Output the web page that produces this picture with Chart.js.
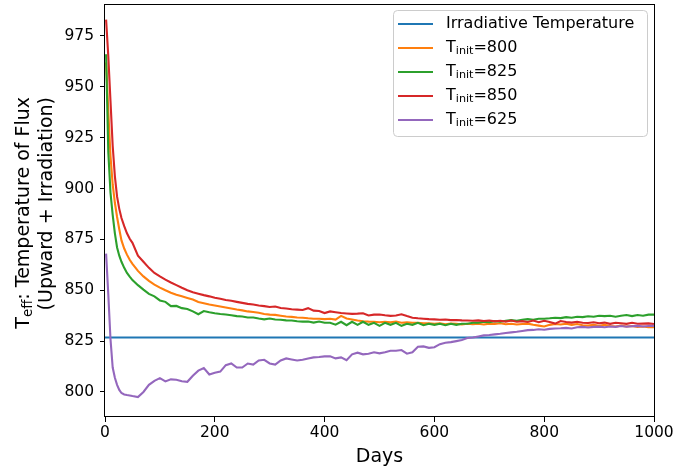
<!DOCTYPE html>
<html>
<head>
<meta charset="utf-8">
<script src="https://cdn.jsdelivr.net/npm/chart.js@4/dist/chart.umd.min.js"></script>
<style>
  html, body { margin: 0; padding: 0; background: #fff; }
  canvas { display: block; }
</style>
</head>
<body>
<canvas id="chart" width="699" height="473"></canvas>
<script>
// Effective temperature vs time for several initial temperatures.
// Values.

const days = [
    2, 6, 10, 14, 18, 22, 26, 30, 35, 40, 45, 50,
    60, 70, 80, 90, 100, 110, 120, 130, 140, 150,
    160, 170, 180, 190, 200, 210, 220, 230, 240, 250,
    260, 270, 280, 290, 300, 310, 320, 330, 340, 350,
    360, 370, 380, 390, 400, 410, 420, 430, 440, 450,
    460, 470, 480, 490, 500, 510, 520, 530, 540, 550,
    560, 570, 580, 590, 600, 610, 620, 630, 640, 650,
    660, 670, 680, 690, 700, 710, 720, 730, 740, 750,
    760, 770, 780, 790, 800, 810, 820, 830, 840, 850,
    860, 870, 880, 890, 900, 910, 920, 930, 940, 950,
    960, 970, 980, 990, 1000
];

const tInit800 = [
    962, 938, 916, 902, 893, 886, 880, 874.5, 870.5, 867.5, 865, 863,
    859.5, 856.8, 854.6, 852.8, 851.3, 850, 848.8, 847.8, 847, 846.2,
    845.4, 844.2, 843.6, 843, 842.5, 842, 841.5, 841, 840.5, 840.1,
    839.6, 839.3, 838.9, 838.3, 838, 837.9, 837.5, 837.1, 836.9, 836.6,
    836.5, 836.2, 836, 836, 835.8, 836, 835.6, 837.4, 836.1, 835.6,
    835.1, 834.8, 834.6, 834.5, 834.3, 834.5, 834.2, 834.6, 834, 834.2,
    834, 834, 833.7, 833.8, 833.5, 833.8, 833.3, 833.6, 833.5, 833.2,
    833.5, 833.3, 833.5, 833.2, 833.6, 833.4, 833.8, 833.3, 833.5, 833.2,
    833.4, 833.6, 833, 832.6, 832.2, 833, 833.4, 833.2, 833.5, 833,
    833.4, 832.8, 832.6, 833, 832.5, 833, 832.4, 832.2, 832.6, 832.2,
    832.4, 832, 832.2, 831.8, 831.8
];

const tInit825 = [
    966, 918, 898, 887, 878, 871, 867, 864, 861, 858.5, 856.7, 855,
    852.5, 850.3, 848.2, 847, 845, 844.3, 842.2, 842.3, 841.2, 840.8,
    839.6, 838.2, 839.8, 839.2, 838.7, 838.3, 838.1, 837.7, 837.3, 837.1,
    836.6, 836.6, 836.1, 835.7, 836.1, 835.6, 835.5, 835.2, 835.1, 834.8,
    834.6, 834.6, 834.1, 834.6, 834, 834, 833.1, 834.5, 832.8, 834.5,
    833, 834.5, 833, 834, 832.5, 834, 833, 834, 832.5, 833.5,
    833, 834, 832.8, 833.5, 833, 833.5, 832.8, 833.5, 833, 833.5,
    833.5, 834, 834, 834.5, 834.3, 834.8, 834.5, 835, 835.3, 835,
    835.5, 835.8, 835.5, 836, 836, 836.2, 836.5, 836.3, 836.8, 836.5,
    837, 836.8, 837.2, 837, 837.5, 837.3, 837.5, 837, 837.5, 837.8,
    837.3, 837.8, 837.5, 838, 838
];

const tInit850 = [
    983, 965, 943, 921, 906, 896, 890, 885.5, 881.5, 878, 875.3, 873.3,
    867, 864, 861, 858.5, 856.8, 855.2, 853.8, 852.5, 851.2, 850,
    849, 848.3, 847.6, 847, 846.3, 845.8, 845.2, 844.8, 844.3, 843.8,
    843.3, 843, 842.5, 842.2, 841.8, 842, 841.3, 841, 840.7, 840.5,
    840.3, 841.2, 840, 839.8, 838.8, 839.6, 839.2, 838.8, 838.6, 838.4,
    838.5, 838.7, 837.6, 838, 838.1, 837.7, 837.4, 837.6, 838.2, 837.3,
    836.5, 836.2, 836, 835.8, 835.7, 835.5, 835.6, 835.3, 835.4, 835.2,
    835.1, 835, 835.2, 834.9, 835.1, 834.7, 835, 834.6, 835.1, 834.5,
    834.8, 834.4, 835.1, 834.3, 835, 834.4, 833.6, 834.9, 834.4, 834.1,
    834.5, 834, 833.9, 834.3, 833.8, 834.1, 833.5, 834, 833.8, 833.5,
    834, 833.5, 833.6, 833.7, 833.4
];

const tInit625 = [
    868, 848, 826, 812, 807, 803.5, 801, 799.5, 798.8, 798.5, 798.3, 798,
    797.5, 800, 803.5, 805.5, 806.8, 805.2, 806.2, 806, 805.3, 805,
    808, 810.5, 811.8, 808.6, 809.5, 810, 813.2, 814, 812, 812,
    814, 813.5, 815.5, 815.8, 814, 813.5, 815.5, 816.5, 816, 815.5,
    815.8, 816.5, 817, 817.2, 817.5, 817.5, 816.5, 817, 815.6, 818.5,
    819.3, 818.5, 818.8, 819.5, 819, 819.5, 820.3, 820.3, 820.6, 818.8,
    819.5, 822.2, 822.4, 821.7, 822, 823.5, 824.2, 824.5, 825, 825.5,
    826.5, 826.8, 827.3, 827.8, 828, 828.3, 828.6, 829, 829.3, 829.6,
    830, 830.4, 830.5, 830.8, 830.6, 831, 831.2, 831.3, 831.5, 831.2,
    831.8, 832, 831.7, 832, 832.1, 831.8, 832.2, 832, 832.4, 832.1,
    832.3, 832.5, 832.2, 832.4, 832.5
];

const irradDays = [0, 1000];
const irradTemp = [826.8, 826.8];

// legend rows: [text, isSubscript] pieces
const legendRows = [
    { color: '#1f77b4', parts: [['Irradiative Temperature', false]] },
    { color: '#ff7f0e', parts: [['T', false], ['init', true], ['=800', false]] },
    { color: '#2ca02c', parts: [['T', false], ['init', true], ['=825', false]] },
    { color: '#d62728', parts: [['T', false], ['init', true], ['=850', false]] },
    { color: '#9467bd', parts: [['T', false], ['init', true], ['=625', false]] }
];

const yTitleLines = [
    [['T', false], ['eff', true], [': Temperature of Flux', false]],
    [['(Upward + Irradiation)', false]]
];

const FONT = '"DejaVu Sans", sans-serif';

const pts = (xs, ys) => xs.map((x, i) => ({ x: x, y: ys[i] }));

function richWidth(ctx, parts, size) {
    let w = 0;
    for (const [t, sub] of parts) {
        ctx.font = (sub ? size * 0.7 : size) + 'px ' + FONT;
        w += ctx.measureText(t).width;
    }
    return w;
}

function drawRich(ctx, parts, x, y, size) {
    let cx = x;
    for (const [t, sub] of parts) {
        ctx.font = (sub ? size * 0.7 : size) + 'px ' + FONT;
        ctx.fillText(t, cx, y + (sub ? size * 0.22 : 0));
        cx += ctx.measureText(t).width;
    }
}

// box round the axes, legend and the two-line y title
const decorPlugin = {
    id: 'decor',
    afterDatasetsDraw(chart) {
        const { ctx, chartArea: a } = chart;
        ctx.save();
        ctx.strokeStyle = '#000';
        ctx.lineWidth = 1;
        ctx.strokeRect(Math.round(a.left) - 0.5, Math.round(a.top) + 0.5,
                       Math.round(a.right - a.left) + 1, Math.round(a.bottom - a.top) - 1);
        ctx.restore();
    },
    afterDraw(chart) {
        const ctx = chart.ctx;
        ctx.save();

        // legend
        const bx = 393, by = 10.5, bw = 254, bh = 126, r = 4;
        ctx.beginPath();
        ctx.roundRect(bx + 0.5, by, bw, bh, r);
        ctx.fillStyle = 'rgba(255,255,255,0.8)';
        ctx.fill();
        ctx.strokeStyle = '#cccccc';
        ctx.lineWidth = 1;
        ctx.stroke();
        ctx.textBaseline = 'middle';
        ctx.textAlign = 'left';
        legendRows.forEach((row, i) => {
            const y = 24 + i * 24;
            ctx.beginPath();
            ctx.moveTo(398, y);
            ctx.lineTo(433, y);
            ctx.strokeStyle = row.color;
            ctx.lineWidth = 2.1;
            ctx.stroke();
            ctx.fillStyle = '#000';
            drawRich(ctx, row.parts, 446, y, 16);
        });

        // y title, rotated, lines end at the same point
        const size = 19;
        const centers = [24, 47];
        yTitleLines.forEach((parts, i) => {
            ctx.save();
            ctx.translate(centers[i], 0);
            ctx.rotate(-Math.PI / 2);
            const w = richWidth(ctx, parts, size);
            ctx.fillStyle = '#000';
            ctx.textBaseline = 'middle';
            drawRich(ctx, parts, -97 - w, 0, size);
            ctx.restore();
        });
        ctx.restore();
    }
};

const line = (label, xs, ys, color, order) => ({
    label: label,
    data: pts(xs, ys),
    borderColor: color,
    backgroundColor: color,
    borderWidth: 2.1,
    pointRadius: 0,
    tension: 0,
    fill: false,
    order: order
});

new Chart(document.getElementById('chart'), {
    type: 'line',
    data: {
        datasets: [
            line('Irradiative Temperature', irradDays, irradTemp, '#1f77b4', 5),
            line('Tinit=800', days, tInit800, '#ff7f0e', 4),
            line('Tinit=825', days, tInit825, '#2ca02c', 3),
            line('Tinit=850', days, tInit850, '#d62728', 2),
            line('Tinit=625', days, tInit625, '#9467bd', 1)
        ]
    },
    options: {
        responsive: false,
        animation: false,
        devicePixelRatio: 1,
        layout: { padding: { left: 0, right: 45, top: 4, bottom: 0 } },
        plugins: {
            legend: { display: false },
            tooltip: { enabled: false }
        },
        scales: {
            x: {
                type: 'linear',
                min: 0,
                max: 1000,
                afterFit: s => { s.height = 56; s.paddingLeft = 0; s.paddingRight = 0; },
                ticks: {
                    stepSize: 200,
                    includeBounds: false,
                    color: '#000',
                    font: { family: FONT, size: 15.5 },
                    padding: 2,
                    maxRotation: 0,
                    callback: v => String(v)
                },
                grid: { drawOnChartArea: false, color: '#000', tickColor: '#000', tickLength: 5 },
                border: { display: false },
                title: {
                    display: true,
                    text: 'Days',
                    color: '#000',
                    font: { family: FONT, size: 19 },
                    padding: { top: 0, bottom: 5 }
                }
            },
            y: {
                type: 'linear',
                min: 787.7,
                max: 990.7,
                afterFit: s => { s.width = 105; s.paddingTop = 0; s.paddingBottom = 0; },
                ticks: {
                    stepSize: 25,
                    includeBounds: false,
                    color: '#000',
                    font: { family: FONT, size: 15.5 },
                    padding: 6,
                    callback: v => String(v)
                },
                grid: { drawOnChartArea: false, color: '#000', tickColor: '#000', tickLength: 5 },
                border: { display: false }
            }
        }
    },
    plugins: [decorPlugin]
});
</script>
</body>
</html>
